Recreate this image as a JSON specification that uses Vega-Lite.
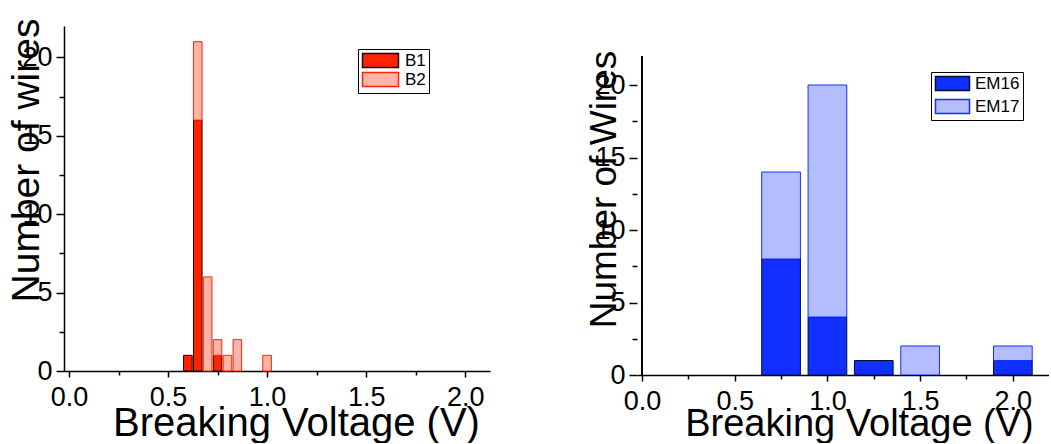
{
  "$schema": "https://vega.github.io/schema/vega-lite/v6.json",
  "background": "white",
  "padding": {"left": 6, "top": 18, "right": 0, "bottom": 0},
  "spacing": 94,
  "resolve": {"scale": {"fill": "independent", "stroke": "independent", "x": "independent", "y": "independent"}, "legend": {"fill": "independent", "stroke": "independent"}},
  "config": {
    "font": "Liberation Sans",
    "view": {"stroke": null},
    "axis": {
      "domainColor": "black", "domainWidth": 1.5,
      "tickColor": "black", "tickWidth": 1.5,
      "labelColor": "black", "titleColor": "black",
      "labelFont": "Liberation Sans", "titleFont": "Liberation Sans",
      "labelFontSize": 27, "titleFontWeight": "normal",
      "grid": false, "labelFlush": false, "labelOverlap": false, "labelBound": false
    },
    "legend": {
      "title": null, "orient": "none", "strokeColor": "black", "fillColor": "white", "padding": 3,
      "symbolSize": 196, "symbolStrokeWidth": 1.5,
      "labelFontSize": 17, "labelColor": "black", "labelFont": "Liberation Sans"
    }
  },
  "hconcat": [
    {
      "width": 426, "height": 345,
      "data": {"values": [
        {"voltage": 0.6, "count": 1, "sample": "B1"},
        {"voltage": 0.65, "count": 16, "sample": "B1"},
        {"voltage": 0.75, "count": 1, "sample": "B1"},
        {"voltage": 0.65, "count": 5, "sample": "B2"},
        {"voltage": 0.7, "count": 6, "sample": "B2"},
        {"voltage": 0.75, "count": 1, "sample": "B2"},
        {"voltage": 0.8, "count": 1, "sample": "B2"},
        {"voltage": 0.85, "count": 2, "sample": "B2"},
        {"voltage": 1.0, "count": 1, "sample": "B2"}
      ]},
      "mark": {"type": "bar", "size": 8.6, "strokeWidth": 1},
      "encoding": {
        "x": {"field": "voltage", "type": "quantitative",
          "scale": {"domain": [0, 2.1], "nice": false, "zero": false},
          "axis": {"title": "Breaking Voltage (V)", "titleFontSize": 40,
            "titleX": 232, "titleY": 64, "titleBaseline": "alphabetic", "titleAlign": "center",
            "values": [0, 0.25, 0.5, 0.75, 1, 1.25, 1.5, 1.75, 2],
            "labelExpr": "(datum.value * 2) % 1 === 0 ? format(datum.value, '.1f') : ''",
            "tickSize": {"condition": {"test": "(datum.value * 2) % 1 === 0", "value": 6}, "value": 4},
            "labelPadding": 7}},
        "y": {"field": "count", "type": "quantitative", "stack": "zero",
          "scale": {"domain": [0, 22], "nice": false},
          "axis": {"title": "Number of wires", "titleFontSize": 39,
            "titleX": -26, "titleY": 134, "titleBaseline": "alphabetic", "titleAlign": "center", "titleAngle": 270,
            "values": [0, 2.5, 5, 7.5, 10, 12.5, 15, 17.5, 20],
            "labelExpr": "datum.value % 5 === 0 ? datum.value : ''",
            "tickSize": {"condition": {"test": "datum.value % 5 === 0", "value": 8}, "value": 5},
            "labelPadding": 4}},
        "order": {"field": "sample", "type": "nominal", "sort": "ascending"},
        "fill": {"field": "sample", "type": "nominal",
          "scale": {"domain": ["B1", "B2"], "range": ["#ff2400", "#ffb4a6"]},
          "legend": {"legendX": 294, "legendY": 23, "symbolType": "M-2.57,-1H2.57V1H-2.57Z", "symbolOffset": 11, "labelOffset": 16, "rowPadding": -2}},
        "stroke": {"field": "sample", "type": "nominal",
          "scale": {"domain": ["B1", "B2"], "range": ["#1a0000", "#ff2400"]},
          "legend": {"legendX": 294, "legendY": 23, "symbolType": "M-2.57,-1H2.57V1H-2.57Z", "symbolOffset": 11, "labelOffset": 16, "rowPadding": -2}}
      }
    },
    {
      "width": 412, "height": 349,
      "data": {"values": [
        {"voltage": 0.75, "count": 8, "sample": "EM16"},
        {"voltage": 1.0, "count": 4, "sample": "EM16"},
        {"voltage": 1.25, "count": 1, "sample": "EM16"},
        {"voltage": 2.0, "count": 1, "sample": "EM16"},
        {"voltage": 0.75, "count": 6, "sample": "EM17"},
        {"voltage": 1.0, "count": 16, "sample": "EM17"},
        {"voltage": 1.5, "count": 2, "sample": "EM17"},
        {"voltage": 2.0, "count": 1, "sample": "EM17"}
      ]},
      "layer": [
        {
          "mark": {"type": "rule", "color": "black", "strokeWidth": 1.5},
          "encoding": {
            "x": {"datum": 0, "type": "quantitative"},
            "y": {"datum": 0, "type": "quantitative"},
            "y2": {"datum": 22}
          }
        },
        {
          "mark": {"type": "bar", "size": 38.7, "strokeWidth": 1, "clip": true},
          "encoding": {
            "x": {"field": "voltage", "type": "quantitative",
              "scale": {"domain": [0, 2.168], "nice": false, "zero": false},
              "axis": {"title": "Breaking Voltage (V)", "titleFontSize": 38,
                "titleX": 222, "titleY": 60, "titleBaseline": "alphabetic", "titleAlign": "center",
                "values": [0, 0.25, 0.5, 0.75, 1, 1.25, 1.5, 1.75, 2],
                "labelExpr": "(datum.value * 2) % 1 === 0 ? format(datum.value, '.1f') : ''",
                "tickSize": {"condition": {"test": "(datum.value * 2) % 1 === 0", "value": 6}, "value": 4},
                "labelPadding": 7}},
            "y": {"field": "count", "type": "quantitative", "stack": "zero",
              "scale": {"domain": [0, 24.07], "nice": false},
              "axis": {"title": "Number of Wires", "titleFontSize": 37, "domain": false,
                "titleX": -22, "titleY": 163, "titleBaseline": "alphabetic", "titleAlign": "center", "titleAngle": 270,
                "values": [0, 2.5, 5, 7.5, 10, 12.5, 15, 17.5, 20],
                "labelExpr": "datum.value % 5 === 0 ? datum.value : ''",
                "tickSize": {"condition": {"test": "datum.value % 5 === 0", "value": 8}, "value": 5},
                "labelPadding": 4}},
            "order": {"field": "sample", "type": "nominal", "sort": "ascending"},
            "fill": {"field": "sample", "type": "nominal",
              "scale": {"domain": ["EM16", "EM17"], "range": ["#1030ff", "#b4bdff"]},
              "legend": {"legendX": 294, "legendY": 46, "symbolType": "M-2.43,-1H2.43V1H-2.43Z", "symbolOffset": 10, "labelOffset": 14, "rowPadding": 2}},
            "stroke": {"field": "sample", "type": "nominal",
              "scale": {"domain": ["EM16", "EM17"], "range": ["#000a33", "#1030ff"]},
              "legend": {"legendX": 294, "legendY": 46, "symbolType": "M-2.43,-1H2.43V1H-2.43Z", "symbolOffset": 10, "labelOffset": 14, "rowPadding": 2}}
          }
        }
      ]
    }
  ]
}
